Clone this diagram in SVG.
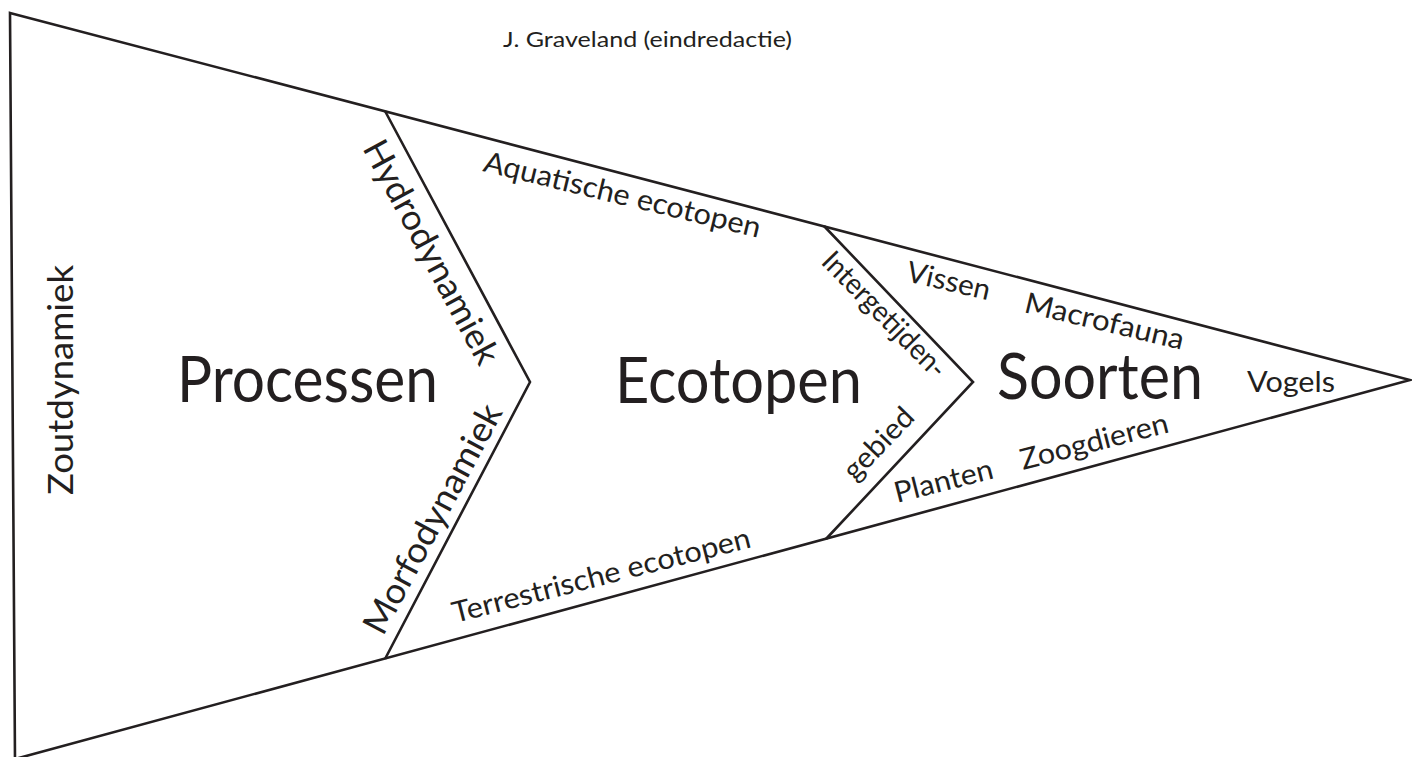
<svg xmlns="http://www.w3.org/2000/svg" width="1412" height="757" viewBox="0 0 1412 757">
<style>
.ln{fill:none;stroke:#231f20;stroke-width:2.6;stroke-linejoin:miter}
text{font-family:Lato,"Open Sans","Liberation Sans",sans-serif;fill:#231f20}
.big{font-size:63px}
.mid{font-size:35px}
.sm{font-size:29px}
.hd{font-size:22px}
</style>
<rect width="1412" height="757" fill="#ffffff"/>
<g id="connectors">
<polygon class="ln" points="10,13 1410,380 15,759"/>
<polyline class="ln" points="385,111 530,382 385,659"/>
<polyline class="ln" points="824,226 973,382 826,539"/>
</g>
<g id="title"><text class="hd" x="503" y="47" textLength="289" lengthAdjust="spacingAndGlyphs">J. Graveland (eindredactie)</text></g>
<g id="zoutdynamiek"><text class="mid" transform="translate(73,495) rotate(-90)" textLength="230" lengthAdjust="spacingAndGlyphs">Zoutdynamiek</text></g>
<g id="processen"><text class="big" x="177" y="402" textLength="261" lengthAdjust="spacingAndGlyphs">Processen</text></g>
<g id="hydrodynamiek"><text class="mid" transform="translate(362,148) rotate(61.85)" textLength="249" lengthAdjust="spacingAndGlyphs">Hydrodynamiek</text></g>
<g id="morfodynamiek"><text class="mid" transform="translate(383,637) rotate(-61.85)" textLength="255" lengthAdjust="spacingAndGlyphs">Morfodynamiek</text></g>
<g id="ecotopen"><text class="big" x="615" y="403" textLength="247" lengthAdjust="spacingAndGlyphs">Ecotopen</text></g>
<g id="aquatisch"><text class="sm" transform="translate(482,171) rotate(13.6)" textLength="284" lengthAdjust="spacingAndGlyphs">Aquatische ecotopen</text></g>
<g id="terrestrisch"><text class="sm" transform="translate(455,623) rotate(-14.35)" textLength="307" lengthAdjust="spacingAndGlyphs">Terrestrische ecotopen</text></g>
<g id="intergetijden"><text class="sm" transform="translate(820,263) rotate(45.5)" textLength="164" lengthAdjust="spacingAndGlyphs">Intergetijden-</text></g>
<g id="gebied"><text class="sm" transform="translate(855,482) rotate(-46)" textLength="88" lengthAdjust="spacingAndGlyphs">gebied</text></g>
<g id="soorten"><text class="big" x="997" y="399" textLength="206" lengthAdjust="spacingAndGlyphs">Soorten</text></g>
<g id="vissen"><text class="sm" transform="translate(905,281) rotate(13)" textLength="85" lengthAdjust="spacingAndGlyphs">Vissen</text></g>
<g id="macrofauna"><text class="sm" transform="translate(1023,312) rotate(13.4)" textLength="163" lengthAdjust="spacingAndGlyphs">Macrofauna</text></g>
<g id="vogels"><text class="sm" x="1247" y="392" textLength="88" lengthAdjust="spacingAndGlyphs">Vogels</text></g>
<g id="planten"><text class="sm" transform="translate(897,503) rotate(-14.3)" textLength="101" lengthAdjust="spacingAndGlyphs">Planten</text></g>
<g id="zoogdieren"><text class="sm" transform="translate(1023,470) rotate(-14.5)" textLength="152" lengthAdjust="spacingAndGlyphs">Zoogdieren</text></g>
</svg>
